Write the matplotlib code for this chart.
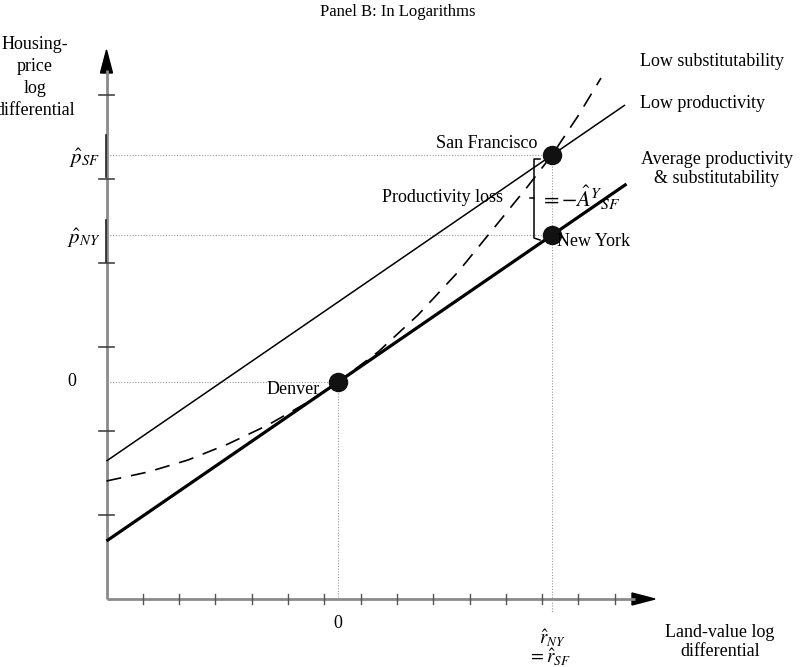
"""Panel B: housing-price vs land-value log differentials, with city markers."""

import matplotlib

matplotlib.use("Agg")
import matplotlib.pyplot as plt
from matplotlib.patches import Polygon

plt.rcParams["font.family"] = ["Liberation Serif", "DejaVu Serif"]
plt.rcParams["mathtext.fontset"] = "stix"

# log differentials relative to Denver
r_den, p_den = 0.0, 0.0
r_ny, p_ny = 2.14, 1.47
r_sf, p_sf = 2.14, 2.27

# average productivity & substitutability (through Denver and New York)
avg_r = [-2.315, 2.885]
avg_p = [-1.59, 1.98]
# low productivity (parallel, through San Francisco)
lowprod_r = [-2.315, 2.87]
lowprod_p = [-0.79, 2.77]
# low substitutability (convex, tangent at Denver)
lowsub_r = [-2.315, -1.9, -1.5, -1.1, -0.7, -0.3, 0.0, 0.4, 0.8, 1.2, 1.6, 1.9, 2.14, 2.4, 2.63]
lowsub_p = [-0.99, -0.90, -0.78, -0.62, -0.43, -0.20, 0.0, 0.30, 0.67, 1.10, 1.59, 1.96, 2.27, 2.66, 3.04]

x0, y0 = -2.315, -2.17      # axis origin
x_tip, y_tip = 3.17, 3.32
x_step, y_step = 0.363, 0.84

fig = plt.figure(figsize=(8, 6.67), dpi=100)
ax = fig.add_axes([0, 0, 1, 1])
ax.set_xlim(-3.38, 4.62)
ax.set_ylim(-2.85, 3.82)
ax.axis("off")

axis_grey = "#8a8a8a"
guide = dict(color="#9a9a9a", lw=0.8, ls=(0, (1, 1.5)))

# axes with arrowheads
ax.plot([x0, x0], [y0, y_tip - 0.2], color=axis_grey, lw=2.0, solid_capstyle="butt")
ax.plot([x0, x_tip - 0.2], [y0, y0], color=axis_grey, lw=2.0, solid_capstyle="butt")
ax.add_patch(Polygon([(x0 - 0.06, y_tip - 0.23), (x0 + 0.06, y_tip - 0.23), (x0, y_tip)],
                     closed=True, color="black"))
ax.add_patch(Polygon([(x_tip - 0.23, y0 - 0.06), (x_tip - 0.23, y0 + 0.06), (x_tip, y0)],
                     closed=True, color="black"))
for k in range(1, 7):
    yt = y0 + k * y_step
    ax.plot([x0 - 0.075, x0 + 0.075], [yt, yt], color="#444444", lw=1.2)
for k in range(1, 15):
    xt = x0 + k * x_step
    ax.plot([xt, xt], [y0 - 0.05, y0 + 0.05], color="#555555", lw=1.0)
# darker strokes beside the price labels
ax.plot([x0 - 0.008] * 2, [2.05, 2.47], color="#222222", lw=1.2)
ax.plot([x0 - 0.008] * 2, [1.20, 1.62], color="#222222", lw=1.2)

# dotted guides
ax.plot([x0, r_sf], [p_sf, p_sf], **guide)
ax.plot([x0, r_ny], [p_ny, p_ny], **guide)
ax.plot([x0, r_den], [p_den, p_den], **guide)
ax.plot([r_den, r_den], [p_den, y0], **guide)
ax.plot([r_sf, r_sf], [p_sf, y0 - 0.13], **guide)

# schedules
ax.plot(avg_r, avg_p, color="black", lw=2.3, solid_capstyle="butt")
ax.plot(lowprod_r, lowprod_p, color="black", lw=1.1, solid_capstyle="butt")
ax.plot(lowsub_r, lowsub_p, color="black", lw=1.2, dashes=(9, 6))

# productivity-loss bracket
bx = 1.96
ax.plot([bx + 0.06, bx, bx, bx + 0.06], [p_sf - 0.04, p_sf - 0.04, p_ny - 0.03, p_ny - 0.05],
        color="black", lw=1.1)
ax.plot([bx - 0.04, bx], [1.84, 1.84], color="black", lw=1.1)

# cities
ax.plot([r_den, r_ny, r_sf], [p_den, p_ny, p_sf], "o", color="#111111", ms=13)

fs = 13
ax.text(0.60, 3.70, "Panel B: In Logarithms", ha="center", va="center", fontsize=12)
ax.text(-3.03, 3.46, "Housing-\nprice\nlog\ndifferential", ha="center", va="top",
        fontsize=fs, linespacing=1.38)
ax.text(-2.38, p_sf - 0.03, r"$\hat{p}_{SF}$", ha="right", va="center", fontsize=15)
ax.text(-2.38, p_ny - 0.03, r"$\hat{p}_{NY}$", ha="right", va="center", fontsize=15)
ax.text(-2.66, 0.0, "0", ha="center", va="center", fontsize=fs)

ax.text(-0.18, -0.08, "Denver", ha="right", va="center", fontsize=fs)
ax.text(1.99, 2.39, "San Francisco", ha="right", va="center", fontsize=fs)
ax.text(2.19, 1.41, "New York", ha="left", va="center", fontsize=fs)
ax.text(1.65, 1.84, "Productivity loss", ha="right", va="center", fontsize=fs)
ax.text(2.02, 1.84, r"$=-\hat{A}^{Y}{}_{SF}$", ha="left", va="center", fontsize=16)

ax.text(3.02, 3.20, "Low substitutability", ha="left", va="center", fontsize=fs)
ax.text(3.02, 2.79, "Low productivity", ha="left", va="center", fontsize=fs)
ax.text(3.79, 2.13, "Average productivity\n& substitutability", ha="center", va="center",
        fontsize=fs, linespacing=1.2)

ax.text(0.0, -2.42, "0", ha="center", va="center", fontsize=fs)
ax.text(r_ny, -2.56, r"$\hat{r}_{NY}$", ha="center", va="center", fontsize=13.5)
ax.text(r_sf - 0.03, -2.755, r"$=\hat{r}_{SF}$", ha="center", va="center", fontsize=13.5)
ax.text(3.82, -2.60, "Land-value log\ndifferential", ha="center", va="center",
        fontsize=fs, linespacing=1.1)

fig.savefig("out.png", dpi=100)
